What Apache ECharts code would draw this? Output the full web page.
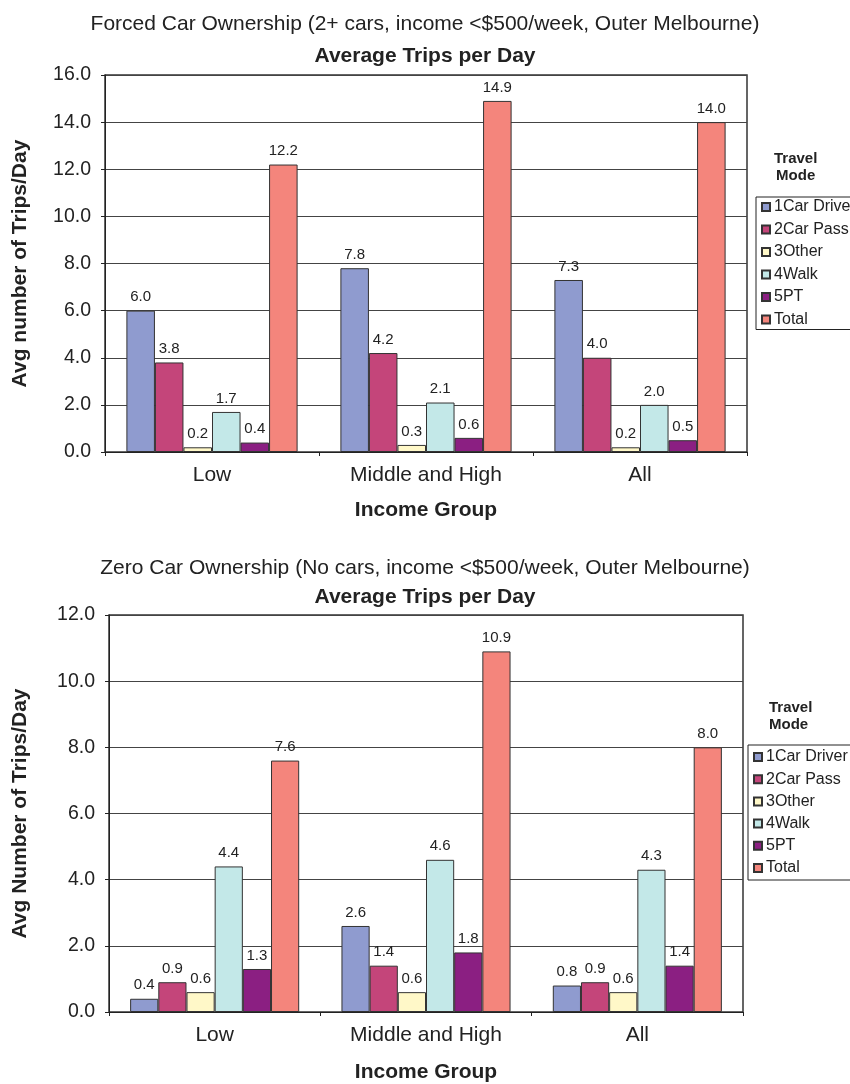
<!DOCTYPE html>
<html>
<head>
<meta charset="utf-8">
<script src="https://cdn.jsdelivr.net/npm/echarts@6/dist/echarts.min.js"></script>
<style>
html,body{margin:0;padding:0;background:#fff;}
#chart{width:850px;height:1084px;}
</style>
</head>
<body>
<div id="chart"></div>
<script>
const categories = ['Low', 'Middle and High', 'All'];
const modes = ['1Car Driver', '2Car Pass', '3Other', '4Walk', '5PT', 'Total'];
const modeColors = ['#8f9bcf', '#c4457a', '#fff8c8', '#c3e8e8', '#8b1f82', '#f4857c'];

// Forced car ownership (top chart): one array per travel mode, values for Low / Middle and High / All
const forcedCarDriver = [6.0, 7.8, 7.3];
const forcedCarPass   = [3.8, 4.2, 4.0];
const forcedOther     = [0.2, 0.3, 0.2];
const forcedWalk      = [1.7, 2.1, 2.0];
const forcedPT        = [0.4, 0.6, 0.5];
const forcedTotal     = [12.2, 14.9, 14.0];

// Zero car ownership (bottom chart)
const zeroCarDriver = [0.4, 2.6, 0.8];
const zeroCarPass   = [0.9, 1.4, 0.9];
const zeroOther     = [0.6, 0.6, 0.6];
const zeroWalk      = [4.4, 4.6, 4.3];
const zeroPT        = [1.3, 1.8, 1.4];
const zeroTotal     = [7.6, 10.9, 8.0];

const topTicks = [0, 2, 4, 6, 8, 10, 12, 14, 16];
const bottomTicks = [0, 2, 4, 6, 8, 10, 12];

const forcedSeries = [forcedCarDriver, forcedCarPass, forcedOther, forcedWalk, forcedPT, forcedTotal];
const zeroSeries = [zeroCarDriver, zeroCarPass, zeroOther, zeroWalk, zeroPT, zeroTotal];

const FONT = '"Liberation Sans", Arial, sans-serif';

function mkSeries(dataArr, idx) {
  return dataArr.map((d, i) => ({
    name: modes[i],
    type: 'bar',
    xAxisIndex: idx,
    yAxisIndex: idx,
    data: d,
    barGap: '0%',
    barCategoryGap: '20%',
    itemStyle: { color: modeColors[i], borderColor: '#333', borderWidth: 1 },
    label: {
      show: true, position: 'top', distance: 6,
      color: '#222', fontSize: 15, fontFamily: FONT,
      formatter: p => p.value.toFixed(1)
    },
    emphasis: { disabled: true },
    animation: false
  }));
}

function mkX(gridIdx, gap) {
  return {
    type: 'category', gridIndex: gridIdx, data: categories,
    name: 'Income Group', nameLocation: 'middle', nameGap: gap,
    nameTextStyle: { fontSize: 21, fontWeight: 'bold', color: '#222', fontFamily: FONT },
    axisLine: { lineStyle: { color: '#222', width: 1 } },
    axisTick: { show: true, length: 4, lineStyle: { color: '#222' } },
    axisLabel: { fontSize: 21, color: '#222', margin: 13, fontFamily: FONT },
    splitLine: { show: false }
  };
}

function mkY(gridIdx, max, name, gap) {
  return {
    type: 'value', gridIndex: gridIdx, min: 0, max: max, interval: 2,
    name: name, nameLocation: 'middle', nameGap: gap,
    nameTextStyle: { fontSize: 21, fontWeight: 'bold', color: '#222', fontFamily: FONT },
    axisLine: { show: true, lineStyle: { color: '#222', width: 1 } },
    axisTick: { show: true, length: 4, lineStyle: { color: '#222' } },
    axisLabel: { fontSize: 19.5, color: '#222', margin: 14, fontFamily: FONT, formatter: v => v.toFixed(1) },
    splitLine: { show: true, lineStyle: { color: '#444', width: 1 } }
  };
}

function mkLegend(left, top, gap, padTop) {
  return {
    data: modes, orient: 'vertical', left: left, top: top,
    itemWidth: 8, itemHeight: 8, itemGap: gap,
    icon: 'rect',
    borderColor: '#222', borderWidth: 1, padding: [padTop, 20, padTop, 5],
    textStyle: { fontSize: 16, color: '#222', fontFamily: FONT, padding: [0, 0, 0, -1] },
    selectedMode: false
  };
}

const chart = echarts.init(document.getElementById('chart'), null, { renderer: 'canvas' });
chart.setOption({
  backgroundColor: '#fff',
  animation: false,
  title: [
    { text: 'Forced Car Ownership (2+ cars, income <$500/week, Outer Melbourne)', left: 'center', top: 9,
      textStyle: { fontSize: 21, fontWeight: 'normal', color: '#222', fontFamily: FONT } },
    { text: 'Average Trips per Day', left: 'center', top: 41,
      textStyle: { fontSize: 21, fontWeight: 'bold', color: '#222', fontFamily: FONT } },
    { text: 'Zero Car Ownership (No cars, income <$500/week, Outer Melbourne)', left: 'center', top: 553,
      textStyle: { fontSize: 21, fontWeight: 'normal', color: '#222', fontFamily: FONT } },
    { text: 'Average Trips per Day', left: 'center', top: 582,
      textStyle: { fontSize: 21, fontWeight: 'bold', color: '#222', fontFamily: FONT } }
  ],
  graphic: [
    { type: 'text', left: 774, top: 150, style: { text: 'Travel\nMode', fill: '#222', font: 'bold 15px "Liberation Sans", Arial, sans-serif', lineHeight: 17, textAlign: 'center' } },
    { type: 'text', left: 769, top: 699, style: { text: 'Travel\nMode', fill: '#222', font: 'bold 15px "Liberation Sans", Arial, sans-serif', lineHeight: 17 } }
  ],
  legend: [mkLegend(756, 197, 6.5, 2), mkLegend(748, 745, 6.2, 4)],
  grid: [
    { left: 105, right: 103, top: 75, height: 377, show: true, borderColor: '#333', borderWidth: 1.5, backgroundColor: '#fff' },
    { left: 109, right: 107, top: 615, height: 398, show: true, borderColor: '#333', borderWidth: 1.5, backgroundColor: '#fff' }
  ],
  xAxis: [mkX(0, 48), mkX(1, 50)],
  yAxis: [mkY(0, topTicks[topTicks.length - 1], 'Avg number of Trips/Day', 74),
          mkY(1, bottomTicks[bottomTicks.length - 1], 'Avg Number of Trips/Day', 78)],
  series: [...mkSeries(forcedSeries, 0), ...mkSeries(zeroSeries, 1)]
});
</script>
</body>
</html>
